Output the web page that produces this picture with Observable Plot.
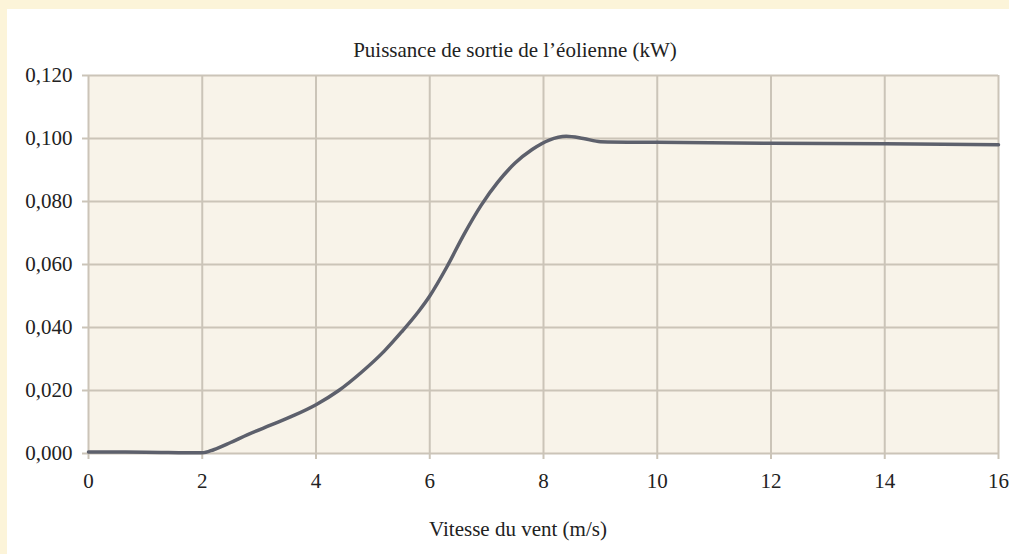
<!DOCTYPE html>
<html>
<head>
<meta charset="utf-8">
<script src="https://cdn.jsdelivr.net/npm/d3@7"></script>
<script src="https://cdn.jsdelivr.net/npm/@observablehq/plot@0.6"></script>
<style>
  html, body { margin: 0; padding: 0; }
  #wrap { position: relative; width: 1009px; height: 554px; background: #fcf4d9; overflow: hidden; font-family: "Liberation Serif", "Times New Roman", "DejaVu Serif", serif; color: #222; }
  #panel { position: absolute; left: 7px; top: 9px; right: 0; bottom: 0; background: #ffffff; }
  #title { position: absolute; left: 265px; width: 500px; top: 38px; line-height: 24px; text-align: center; font-size: 21px; }
  #xlabel { position: absolute; left: 268px; width: 500px; top: 517px; line-height: 24px; text-align: center; font-size: 21px; }
  #chart { position: absolute; left: 7px; top: 65px; }
  #chart svg text { font-family: "Liberation Serif", "Times New Roman", "DejaVu Serif", serif; }
</style>
</head>
<body>
<div id="wrap">
  <div id="panel"></div>
  <div id="title">Puissance de sortie de l’éolienne (kW)</div>
  <div id="chart"></div>
  <div id="xlabel">Vitesse du vent (m/s)</div>
</div>
<script>
const windSpeed = [0, 1, 2, 2.2, 2.5, 2.8, 3.2, 3.6, 4.0, 4.4, 4.8, 5.2, 5.5, 5.8, 6.0, 6.3, 6.6, 6.9, 7.2, 7.5, 7.8, 8.1, 8.4, 8.7, 9.0, 10, 12, 14, 16];
const power = [0.0005, 0.0004, 0.0002, 0.0012, 0.0035, 0.0060, 0.0090, 0.0120, 0.0155, 0.0200, 0.0258, 0.0325, 0.0385, 0.0450, 0.0500, 0.0592, 0.0695, 0.0787, 0.0862, 0.0922, 0.0965, 0.0995, 0.1007, 0.1000, 0.0990, 0.0988, 0.0985, 0.0983, 0.0980];
const xTicks = [0, 2, 4, 6, 8, 10, 12, 14, 16];
const yTicks = [0, 0.02, 0.04, 0.06, 0.08, 0.10, 0.12];

const data = windSpeed.map((x, i) => ({x, y: power[i]}));
const gridColor = "#cbc4b8";
const fmtY = d => d.toFixed(3).replace(".", ",");

const plot = Plot.plot({
  width: 1002,
  height: 428,
  marginLeft: 81,
  marginRight: 11,
  marginTop: 10,
  marginBottom: 40,
  style: { background: "transparent", fontFamily: "'Liberation Serif', 'Times New Roman', serif", fontSize: "21px", color: "#222", overflow: "visible" },
  x: { domain: [0, 16] },
  y: { domain: [0, 0.12] },
  marks: [
    Plot.frame({ fill: "#f8f3e9", stroke: null }),
    Plot.gridX(xTicks, { stroke: gridColor, strokeOpacity: 1, strokeWidth: 2 }),
    Plot.gridY(yTicks, { stroke: gridColor, strokeOpacity: 1, strokeWidth: 2 }),
    Plot.axisX(xTicks, { tickSize: 6, tickPadding: 14, stroke: gridColor, strokeWidth: 2, tickFormat: d => String(d), label: null, fill: "#222" }),
    Plot.axisY(yTicks, { tickSize: 6, tickPadding: 10, stroke: gridColor, strokeWidth: 2, tickFormat: fmtY, label: null, fill: "#222" }),
    Plot.line(data, { x: "x", y: "y", stroke: "#5d606c", strokeWidth: 3.5, curve: "monotone-x" })
  ]
});
document.getElementById("chart").appendChild(plot);
</script>
</body>
</html>
